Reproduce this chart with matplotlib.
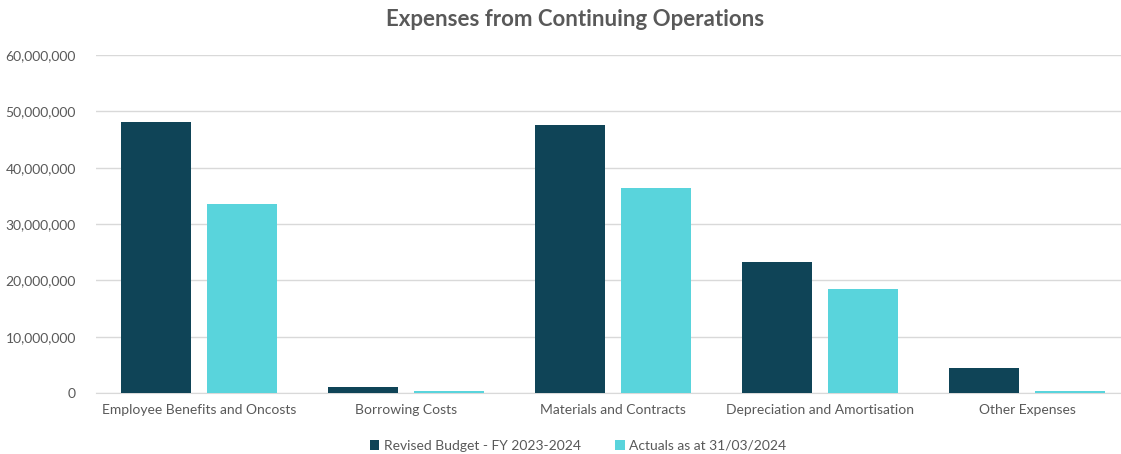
import matplotlib
matplotlib.use("Agg")
import matplotlib.pyplot as plt
import numpy as np
from matplotlib.ticker import FuncFormatter

categories = ["Employee Benefits and Oncosts", "Borrowing Costs", "Materials and Contracts",
              "Depreciation and Amortisation", "Other Expenses"]
budget = [48100000, 1000000, 47600000, 23250000, 4450000]
actuals = [33550000, 300000, 36400000, 18450000, 350000]
series_names = ["Revised Budget - FY 2023-2024", "Actuals as at 31/03/2024"]
dark = "#0F4457"
light = "#59D4DC"

plt.rcParams['font.family'] = ['Lato', 'DejaVu Sans']

fig = plt.figure(figsize=(11.21, 4.54), dpi=100)
ax = fig.add_axes([95.5/1121, 61/454, 1035/1121, 338/454])

x = np.arange(len(categories))
w = 0.338
off = 0.209
ax.bar(x - off, budget, w, color=dark, label=series_names[0], zorder=3)
ax.bar(x + off, actuals, w, color=light, label=series_names[1], zorder=3)

ax.set_xlim(-0.5, len(categories) - 0.5)
ax.set_ylim(0, 60000000)
ax.set_yticks(np.arange(0, 60000001, 10000000))
ax.yaxis.set_major_formatter(FuncFormatter(lambda v, p: f"{int(v):,}"))
ax.grid(axis='y', color='#D9D9D9', linewidth=1, zorder=0)
for s in ['top', 'right', 'left']:
    ax.spines[s].set_visible(False)
ax.spines['bottom'].set_color('#D9D9D9')
ax.tick_params(axis='both', length=0, labelsize=10, colors='#595959', pad=8)
ax.tick_params(axis='y', pad=14)
ax.set_xticks(x)
ax.set_xticklabels(categories)

fig.text(575/1121, 1 - 20/454, "Expenses from Continuing Operations", ha='center', va='center',
         fontsize=16, fontweight='bold', color='#595959')

leg = fig.legend(loc='center', bbox_to_anchor=(578/1121, 1 - 446/454), ncol=2, frameon=False,
                 fontsize=10, handlelength=0.7, handleheight=0.7, handletextpad=0.3,
                 columnspacing=2.5, labelcolor='#595959')

fig.savefig("out.png", dpi=100)
